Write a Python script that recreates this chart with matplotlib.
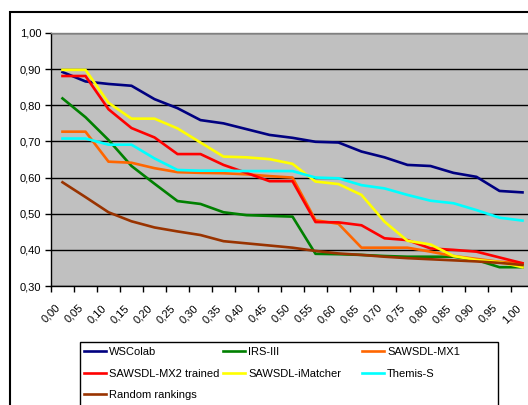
import matplotlib
matplotlib.use('Agg')
import matplotlib.pyplot as plt
from matplotlib.patches import Rectangle
import numpy as np

plt.rcParams['font.family'] = ['Liberation Sans', 'DejaVu Sans']

recall = ['0,00', '0,05', '0,10', '0,15', '0,20', '0,25', '0,30', '0,35', '0,40', '0,45', '0,50',
          '0,55', '0,60', '0,65', '0,70', '0,75', '0,80', '0,85', '0,90', '0,95', '1,00']

wscolab = [0.892, 0.866, 0.859, 0.854, 0.817, 0.792, 0.759, 0.750, 0.734, 0.718, 0.710,
           0.699, 0.697, 0.672, 0.656, 0.635, 0.632, 0.613, 0.602, 0.563, 0.559]
irs3 = [0.819, 0.767, 0.704, 0.632, 0.583, 0.535, 0.527, 0.504, 0.496, 0.494, 0.492,
        0.389, 0.388, 0.386, 0.383, 0.381, 0.381, 0.381, 0.372, 0.352, 0.352]
mx1 = [0.727, 0.727, 0.644, 0.641, 0.626, 0.615, 0.613, 0.612, 0.609, 0.604, 0.600,
       0.482, 0.472, 0.406, 0.406, 0.406, 0.395, 0.383, 0.375, 0.367, 0.363]
mx2 = [0.881, 0.881, 0.789, 0.737, 0.711, 0.665, 0.665, 0.635, 0.613, 0.590, 0.590,
       0.477, 0.476, 0.468, 0.432, 0.427, 0.404, 0.400, 0.395, 0.379, 0.363]
imatcher = [0.898, 0.898, 0.807, 0.763, 0.763, 0.736, 0.697, 0.658, 0.656, 0.651, 0.638,
            0.589, 0.582, 0.552, 0.478, 0.425, 0.415, 0.383, 0.372, 0.366, 0.352]
themis = [0.708, 0.708, 0.691, 0.691, 0.653, 0.621, 0.619, 0.619, 0.618, 0.618, 0.618,
          0.600, 0.598, 0.579, 0.570, 0.552, 0.536, 0.529, 0.510, 0.489, 0.481]
rnd = [0.587, 0.546, 0.504, 0.479, 0.462, 0.451, 0.441, 0.424, 0.418, 0.412, 0.406,
       0.397, 0.390, 0.386, 0.381, 0.377, 0.374, 0.371, 0.368, 0.364, 0.358]

series = [
    ('WSColab', wscolab, '#000080'),
    ('IRS-III', irs3, '#008000'),
    ('SAWSDL-MX1', mx1, '#FF6600'),
    ('SAWSDL-MX2 trained', mx2, '#FF0000'),
    ('SAWSDL-iMatcher', imatcher, '#FFFF00'),
    ('Themis-S', themis, '#00FFFF'),
    ('Random rankings', rnd, '#993300'),
]

W, H = 528, 405
fig = plt.figure(figsize=(W / 100, H / 100), dpi=100)

# outer chart frame
fig.patches.append(Rectangle((10 / W, -0.1), 1.2, (H - 12) / H + 0.1,
                             transform=fig.transFigure, fill=False,
                             edgecolor='black', lw=1.5))

ax = fig.add_axes([51 / W, 1 - 286 / H, 483 / W, 253 / H])
ax.set_facecolor('#C0C0C0')

x = np.arange(len(recall))
handles = {}
for name, vals, col in series:
    ln, = ax.plot(x, vals, color=col, lw=1.9, label=name)
    handles[name] = ln

ax.set_xlim(-0.5, len(recall) - 0.5)
ax.set_ylim(0.3, 1.0)
yt = np.arange(0.3, 1.001, 0.1)
ax.set_yticks(yt)
ax.set_yticklabels([('%.2f' % v).replace('.', ',') for v in yt])
ax.yaxis.grid(True, color='black', lw=1)
ax.set_axisbelow(True)

ax.set_xticks(x)
ax.set_xticklabels(recall, rotation=45, ha='right', va='top')
ax.set_xticks(np.arange(-0.5, len(recall)), minor=True)
ax.tick_params(axis='x', which='major', length=0, pad=12, labelsize=8)
ax.tick_params(axis='x', which='minor', length=4, width=1, direction='out')
ax.tick_params(axis='y', length=4, width=1, pad=3, labelsize=8)

for s in ['top', 'right']:
    ax.spines[s].set_color('#808080')
    ax.spines[s].set_linewidth(1)
ax.spines['left'].set_linewidth(1)
ax.spines['bottom'].set_linewidth(1)

# legend box, with one legend per column so the columns sit evenly
fig.patches.append(Rectangle((80 / W, -0.1), 418 / W, (H - 342) / H + 0.1,
                             transform=fig.transFigure, fill=True, facecolor='white',
                             edgecolor='black', lw=1, zorder=5))
cols = [['WSColab', 'SAWSDL-MX2 trained', 'Random rankings'],
        ['IRS-III', 'SAWSDL-iMatcher'],
        ['SAWSDL-MX1', 'Themis-S']]
for cx, names in zip([84, 223, 362], cols):
    leg = fig.legend([handles[n] for n in names], names, loc='upper left',
                     bbox_to_anchor=(cx / W, 1 - 347 / H), frameon=False,
                     fontsize=8, handlelength=2.0, handletextpad=0.25,
                     labelspacing=1.05, borderpad=0, borderaxespad=0)
    leg.set_zorder(6)

fig.savefig('out.png', dpi=100)
